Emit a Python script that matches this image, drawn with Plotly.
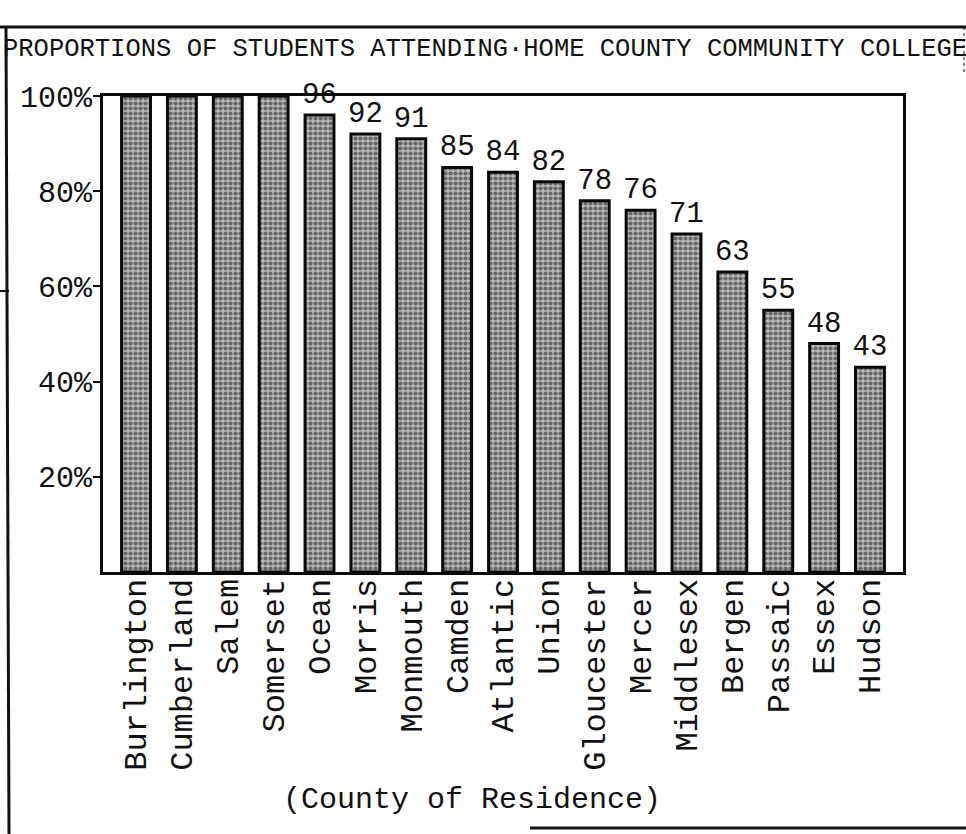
import plotly.graph_objects as go

counties = ["Burlington", "Cumberland", "Salem", "Somerset", "Ocean", "Morris",
            "Monmouth", "Camden", "Atlantic", "Union", "Gloucester", "Mercer",
            "Middlesex", "Bergen", "Passaic", "Essex", "Hudson"]
percent = [100, 100, 100, 100, 96, 92, 91, 85, 84, 82, 78, 76, 71, 63, 55, 48, 43]
y_ticks = [20, 40, 60, 80, 100]
y_tick_labels = ["20%", "40%", "60%", "80%", "100%"]
bar_labels = [str(v) if v < 100 else "" for v in percent]

W, H = 966, 834
L, R, T, B = 103, 63, 96, 262
FONT = "Liberation Mono"

fig = go.Figure()
fig.add_trace(go.Bar(
    x=counties, y=percent, width=0.63,
    text=bar_labels, textposition="outside", cliponaxis=False, constraintext="none",
    textfont=dict(family=FONT, size=29, color="#111"),
    marker=dict(
        color="#a8a8a8",
        line=dict(color="#0a0a0a", width=3),
        pattern=dict(shape=".", size=5, solidity=0.55, fgcolor="#151515", bgcolor="#b8b8b8"),
    ),
    showlegend=False,
))

def px_x(p):
    return (p - L) / (W - L - R)

def px_y(p):
    return 1 - (p - T) / (H - T - B)

fig.update_layout(
    width=W, height=H,
    margin=dict(l=L, r=R, t=T, b=B, autoexpand=False),
    paper_bgcolor="white", plot_bgcolor="white",
    bargap=0.37,
    title=dict(text="PROPORTIONS OF STUDENTS ATTENDING·HOME COUNTY COMMUNITY COLLEGE",
               xref="container", yref="container", x=3 / W, xanchor="left",
               y=1 - 47 / H, yanchor="middle",
               font=dict(family=FONT, size=25.5, color="#111")),
    xaxis=dict(range=[-0.72, 16.72], showline=True, linecolor="#0a0a0a", linewidth=3,
               mirror=True, ticks="", tickangle=-90, showgrid=False,
               ticklabelstandoff=-9,
               tickfont=dict(family=FONT, size=32, color="#111")),
    yaxis=dict(range=[0, 100], showline=True, linecolor="#0a0a0a", linewidth=3,
               mirror=True, ticks="outside", ticklen=7, tickwidth=2, tickcolor="#0a0a0a",
               ticklabelstandoff=-5,
               tickvals=y_ticks, ticktext=y_tick_labels, showgrid=False, zeroline=False,
               tickfont=dict(family=FONT, size=30, color="#111")),
    annotations=[dict(text="(County of Residence)", xref="paper", yref="paper",
                      x=px_x(472), y=px_y(800), xanchor="center", yanchor="middle",
                      showarrow=False, font=dict(family=FONT, size=30, color="#111"))],
    shapes=[
        dict(type="line", xref="paper", yref="paper", x0=px_x(0), x1=px_x(966),
             y0=px_y(27), y1=px_y(27), line=dict(color="#111", width=3)),
        dict(type="line", xref="paper", yref="paper", x0=px_x(6), x1=px_x(9),
             y0=px_y(27), y1=px_y(834), line=dict(color="#111", width=3)),
        dict(type="line", xref="paper", yref="paper", x0=px_x(0), x1=px_x(9),
             y0=px_y(291), y1=px_y(291), line=dict(color="#111", width=2)),
        dict(type="line", xref="paper", yref="paper", x0=px_x(964), x1=px_x(964),
             y0=px_y(27), y1=px_y(72), line=dict(color="#111", width=1, dash="dot")),
        dict(type="line", xref="paper", yref="paper", x0=px_x(530), x1=px_x(966),
             y0=px_y(828), y1=px_y(828), line=dict(color="#111", width=3)),
    ],
)

fig.write_html("out.html", config={"displayModeBar": False},
               post_script="document.body.style.margin='0';")
